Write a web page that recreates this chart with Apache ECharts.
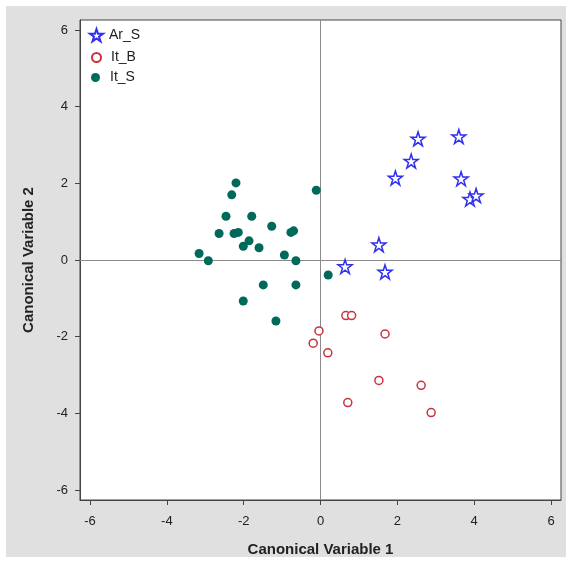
<!DOCTYPE html>
<html>
<head>
<meta charset="utf-8">
<script src="https://cdn.jsdelivr.net/npm/echarts@6/dist/echarts.min.js"></script>
<style>
html,body{margin:0;padding:0;background:#fff;}
#chart{width:570px;height:562px;}
</style>
</head>
<body>
<div id="chart"></div>
<script>
// Data (Canonical Variable 1, Canonical Variable 2)
const seriesNames = ['Ar_S', 'It_B', 'It_S'];
const arS = [
  [2.54, 3.16], [3.60, 3.22], [2.36, 2.58], [1.95, 2.14], [3.66, 2.12],
  [3.89, 1.59], [4.05, 1.68], [1.52, 0.40], [0.64, -0.17], [1.68, -0.31]
];
const itB = [
  [0.66, -1.45], [0.81, -1.45], [-0.04, -1.85], [1.68, -1.93], [-0.19, -2.17],
  [0.19, -2.42], [1.52, -3.14], [2.62, -3.27], [0.71, -3.72], [2.88, -3.98]
];
const itS = [
  [-2.20, 2.01], [-2.31, 1.70], [-0.11, 1.82], [-2.46, 1.14], [-1.79, 1.14],
  [-2.64, 0.69], [-1.27, 0.88], [-2.25, 0.69], [-2.14, 0.72], [-0.77, 0.72],
  [-0.70, 0.76], [-1.86, 0.50], [-2.01, 0.36], [-1.60, 0.32], [-3.16, 0.17],
  [-2.92, -0.02], [-0.94, 0.13], [-0.64, -0.02], [0.20, -0.39], [-1.49, -0.65],
  [-0.64, -0.65], [-2.01, -1.07], [-1.16, -1.59]
];
const xTicks = [-6, -4, -2, 0, 2, 4, 6];
const yTicks = [-6, -4, -2, 0, 2, 4, 6];
const xTitle = 'Canonical Variable 1';
const yTitle = 'Canonical Variable 2';

const starPath = 'path://M50,2 L61.2,36.6 L97.6,36.6 L68.2,58 L79.4,92.6 L50,71.2 L20.6,92.6 L31.8,58 L2.4,36.6 L38.8,36.6 Z';
const FONT = '"Liberation Sans", Arial, sans-serif';

const chart = echarts.init(document.getElementById('chart'), null, {renderer: 'canvas'});

const axisCommon = {
  type: 'value',
  min: -6.26,
  max: 6.26,
  nameLocation: 'middle',
  nameTextStyle: {fontFamily: FONT, fontSize: 15, fontWeight: 'bold', color: '#222'},
  axisLine: {show: true, onZero: false, lineStyle: {color: '#444', width: 1}},
  splitLine: {show: false}
};

const legendText = {fontFamily: FONT, fontSize: 14, color: '#222'};

chart.setOption({
  animation: false,
  backgroundColor: '#ffffff',
  graphic: [{
    type: 'rect', z: -10, silent: true,
    shape: {x: 6, y: 6, width: 560, height: 551},
    style: {fill: '#e0e0e0'}
  }],
  grid: {
    left: 80, top: 20, width: 481, height: 481,
    show: true, backgroundColor: '#ffffff', borderColor: '#444', borderWidth: 1,
    containLabel: false
  },
  xAxis: Object.assign({}, axisCommon, {
    name: xTitle,
    nameGap: 42,
    axisTick: {show: true, inside: false, length: 5, customValues: xTicks, lineStyle: {color: '#444'}},
    axisLabel: {customValues: xTicks, margin: 15, fontFamily: FONT, fontSize: 13, color: '#222'}
  }),
  yAxis: Object.assign({}, axisCommon, {
    name: yTitle,
    nameGap: 44,
    axisTick: {show: true, inside: false, length: 5, customValues: yTicks, lineStyle: {color: '#444'}},
    axisLabel: {customValues: yTicks, margin: 12, fontFamily: FONT, fontSize: 13, color: '#222'}
  }),
  legend: [
    {data: [seriesNames[0]], orient: 'vertical', left: 89, top: 28, itemWidth: 13, itemHeight: 13, itemGap: 0,
     textStyle: Object.assign({padding: [0, 0, 0, 1]}, legendText), selectedMode: false, padding: 0},
    {data: [seriesNames[1]], orient: 'vertical', left: 91, top: 50.5, itemWidth: 9, itemHeight: 9, itemGap: 0,
     textStyle: Object.assign({padding: [0, 0, 0, 5]}, legendText), selectedMode: false, padding: 0},
    {data: [seriesNames[2]], orient: 'vertical', left: 91, top: 70.5, itemWidth: 9, itemHeight: 9, itemGap: 0,
     textStyle: Object.assign({padding: [0, 0, 0, 5]}, legendText), selectedMode: false, padding: 0}
  ],
  series: [
    {
      name: seriesNames[2], type: 'scatter', data: itS,
      symbol: 'circle', symbolSize: 9,
      itemStyle: {color: '#006a5a', opacity: 1},
      markLine: {
        silent: true, symbol: ['none', 'none'], label: {show: false},
        lineStyle: {color: '#8a8a8a', width: 1, type: 'solid'},
        data: [{xAxis: 0}, {yAxis: 0}],
        z: 1
      },
      z: 3
    },
    {
      name: seriesNames[1], type: 'scatter', data: itB,
      symbol: 'circle', symbolSize: 8,
      itemStyle: {color: '#ffffff', borderColor: '#c8323f', borderWidth: 1.5, opacity: 1},
      z: 4
    },
    {
      name: seriesNames[0], type: 'scatter', data: arS,
      symbol: starPath, symbolSize: 14,
      itemStyle: {color: '#ffffff', borderColor: '#3030f0', borderWidth: 1.5, opacity: 1},
      z: 5
    }
  ]
});
</script>
</body>
</html>
